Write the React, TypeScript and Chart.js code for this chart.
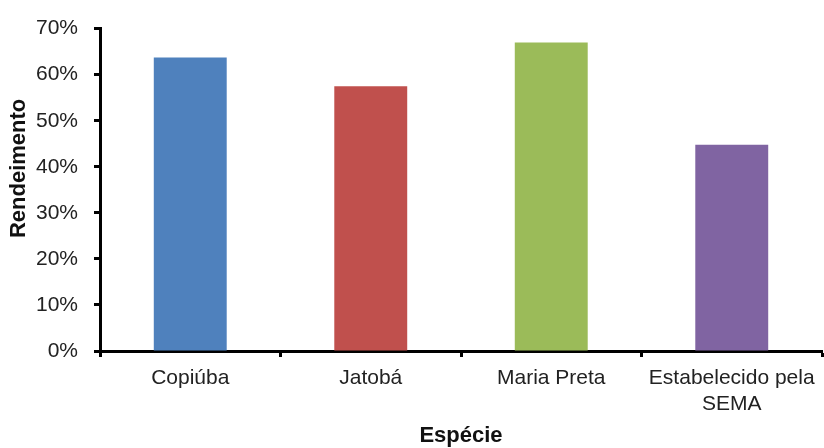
import React, { useEffect, useRef } from "react";
import { Chart, registerables } from "chart.js";

Chart.register(...registerables);

const categories: (string | string[])[] = ["Copiúba", "Jatobá", "Maria Preta", ["Estabelecido pela", "SEMA"]];
const rendimento: number[] = [63.7, 57.5, 67.0, 44.8];
const barColors: string[] = ["#4F81BD", "#C0504D", "#9BBB59", "#8064A2"];
const yTicks: number[] = [0, 10, 20, 30, 40, 50, 60, 70];
const yTitle = "       Rendeimento";
const xTitle = "Espécie";

export default function App() {
  const ref = useRef<HTMLCanvasElement | null>(null);
  useEffect(() => {
    if (!ref.current) return;
    const chart = new Chart(ref.current, {
      type: "bar",
      data: {
        labels: categories,
        datasets: [
          {
            data: rendimento,
            backgroundColor: barColors,
            borderWidth: 0,
            categoryPercentage: 1,
            barPercentage: 0.404,
          },
        ],
      },
      options: {
        animation: false,
        responsive: false,
        maintainAspectRatio: false,
        layout: { padding: { top: 26, left: 0, right: 2, bottom: 0 } },
        plugins: { legend: { display: false }, tooltip: { enabled: false } },
        scales: {
          x: {
            offset: true,
            grid: {
              offset: true,
              drawOnChartArea: false,
              drawTicks: true,
              tickLength: 6,
              tickColor: "#000",
              tickWidth: 3,
            },
            border: { display: true, color: "#000", width: 3 },
            ticks: {
              color: "#222",
              padding: 9,
              maxRotation: 0,
              autoSkip: false,
              font: { family: "'Liberation Sans', Arial, sans-serif", size: 21, lineHeight: 1.2 },
            },
            title: {
              display: true,
              text: xTitle,
              color: "#111",
              padding: { top: 0, bottom: -1 },
              font: { family: "'Liberation Sans', Arial, sans-serif", size: 22, weight: "bold" },
            },
            afterFit: (scale: any) => {
              scale.height = 97;
            },
          },
          y: {
            min: 0,
            max: 70,
            afterBuildTicks: (scale: any) => {
              scale.ticks = yTicks.map((v) => ({ value: v }));
            },
            grid: {
              drawOnChartArea: false,
              drawTicks: true,
              tickLength: 6,
              tickColor: "#000",
              tickWidth: 3,
            },
            border: { display: true, color: "#000", width: 3 },
            ticks: {
              color: "#222",
              padding: 16,
              callback: (v: any) => `${v}%`,
              font: { family: "'Liberation Sans', Arial, sans-serif", size: 21 },
            },
            title: {
              display: true,
              text: yTitle,
              color: "#111",
              padding: { top: 6, bottom: 0 },
              font: { family: "'Liberation Sans', Arial, sans-serif", size: 22, weight: "bold" },
            },
            afterFit: (scale: any) => {
              scale.width = 100;
            },
          },
        },
      },
    });
    return () => chart.destroy();
  }, []);
  return (
    <div style={{ position: "fixed", left: 0, top: 0, width: 824, height: 448, background: "#fff" }}>
      <canvas ref={ref} width={824} height={448} style={{ display: "block" }} />
    </div>
  );
}
